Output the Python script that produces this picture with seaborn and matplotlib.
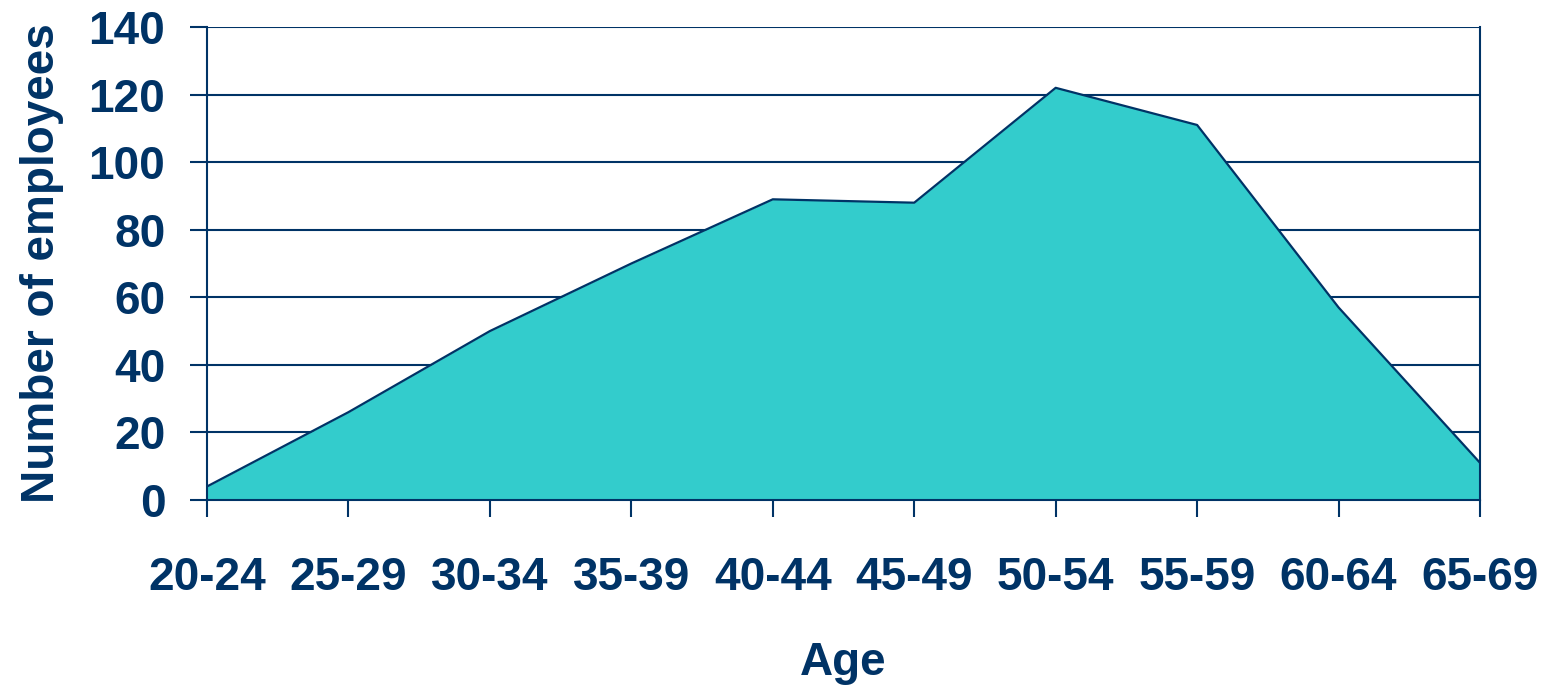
import matplotlib
matplotlib.use("Agg")
import matplotlib.pyplot as plt
import seaborn as sns
import pandas as pd

categories = ["20-24", "25-29", "30-34", "35-39", "40-44", "45-49", "50-54", "55-59", "60-64", "65-69"]
employees = [4, 26, 50, 70, 89, 88, 122, 111, 57, 11]
y_ticks = [0, 20, 40, 60, 80, 100, 120, 140]

NAVY = "#003366"
TEAL = "#33CCCC"

sns.set_theme(style="white")
plt.rcParams["font.family"] = ["Liberation Sans", "DejaVu Sans"]

df = pd.DataFrame({"pos": range(len(categories)), "age": categories, "n": employees})

fig = plt.figure(figsize=(15.5, 6.85), dpi=100)
ax = fig.add_axes([207 / 1550, 1 - 500 / 685, (1480 - 207) / 1550, (500 - 27) / 685])

ax.fill_between(df["pos"], 0, df["n"], color=TEAL, zorder=2, linewidth=0)
sns.lineplot(data=df, x="pos", y="n", color=NAVY, linewidth=1.6, ax=ax, zorder=3)

ax.set_xlim(0, len(categories) - 1)
ax.set_ylim(0, 140)
ax.set_yticks(y_ticks)
ax.set_xticks(range(len(categories)))
ax.set_xticklabels(categories)

for y in y_ticks:
    ax.axhline(y, color=NAVY, linewidth=1.5, zorder=1)

for side in ["left", "right", "bottom"]:
    ax.spines[side].set_visible(True)
    ax.spines[side].set_color(NAVY)
    ax.spines[side].set_linewidth(1.5)
    ax.spines[side].set_zorder(4)
ax.spines["top"].set_visible(False)

ax.tick_params(axis="both", colors=NAVY, labelcolor=NAVY, labelsize=33,
               length=12, width=1.5, direction="out")
ax.tick_params(axis="y", left=True, pad=18)
ax.tick_params(axis="x", bottom=True, pad=28)
for lbl in ax.get_xticklabels() + ax.get_yticklabels():
    lbl.set_fontweight("bold")

ax.set_xlabel("Age", fontsize=33, fontweight="bold", color=NAVY, labelpad=30)
ax.set_ylabel("Number of employees", fontsize=33, fontweight="bold", color=NAVY, labelpad=18)

fig.savefig("out.png", dpi=100, facecolor="white")
